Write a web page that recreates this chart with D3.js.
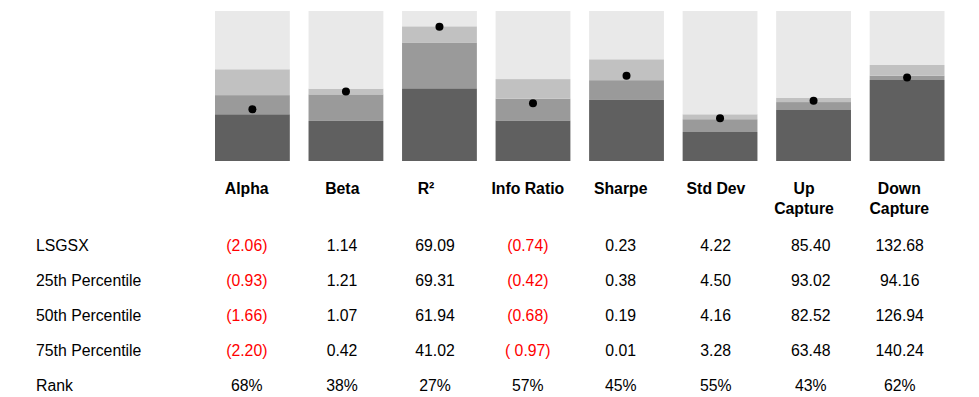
<!DOCTYPE html>
<html>
<head>
<meta charset="utf-8">
<script src="https://cdn.jsdelivr.net/npm/d3@7"></script>
<style>
  html, body { margin: 0; padding: 0; background: #fff; }
  svg { display: block; }
  text { font-family: "Liberation Sans", Arial, sans-serif; }
</style>
</head>
<body>
<svg id="chart" width="979" height="397"></svg>
<script>
// ---------- data ----------
const metrics = ["Alpha", "Beta", "R²", "Info Ratio", "Sharpe", "Std Dev", "Up Capture", "Down Capture"];
const headerLines = [["Alpha"], ["Beta"], ["R²"], ["Info Ratio"], ["Sharpe"], ["Std Dev"], ["Up", "Capture"], ["Down", "Capture"]];
const fund = [-2.06, 1.14, 69.09, -0.74, 0.23, 4.22, 85.40, 132.68];
const p25  = [-0.93, 1.21, 69.31, -0.42, 0.38, 4.50, 93.02, 94.16];
const p50  = [-1.66, 1.07, 61.94, -0.68, 0.19, 4.16, 82.52, 126.94];
const p75  = [-2.20, 0.42, 41.02, -0.97, 0.01, 3.28, 63.48, 140.24];
// value shown at bottom and top of each bar's scale (Down Capture is inverted)
const scaleBottom = [-3.52, -0.56, 7.85, -1.51, -0.545, 1.28, -59.0, 389.1];
const scaleTop    = [0.715, 3.11, 76.29, 0.486, 0.819, 11.62, 301.2, -71.7];

const rowLabels = ["LSGSX", "25th Percentile", "50th Percentile", "75th Percentile", "Rank"];
const fundText = ["(2.06)", "1.14", "69.09", "(0.74)", "0.23", "4.22", "85.40", "132.68"];
const p25Text  = ["(0.93)", "1.21", "69.31", "(0.42)", "0.38", "4.50", "93.02", "94.16"];
const p50Text  = ["(1.66)", "1.07", "61.94", "(0.68)", "0.19", "4.16", "82.52", "126.94"];
const p75Text  = ["(2.20)", "0.42", "41.02", "( 0.97)", "0.01", "3.28", "63.48", "140.24"];
const rankText = ["68%", "38%", "27%", "57%", "45%", "55%", "43%", "62%"];

// ---------- layout ----------
const svg = d3.select("#chart");
const barTop = 11, barBottom = 161;
const x = d3.scaleBand().domain(metrics).range([215, 944.5]).paddingInner(0.2).paddingOuter(0);
const colors = ["#606060", "#9a9a9a", "#c1c1c1", "#e9e9e9"];
const headerX = [246.7, 342.3, 426, 527.8, 620.7, 716, 804, 899.3];
const valueX  = [246.8, 342, 435, 527.8, 620.7, 715.7, 810.8, 899.7];
const fontSize = 15.8;

metrics.forEach((m, i) => {
  const y = d3.scaleLinear().domain([scaleBottom[i], scaleTop[i]]).range([barBottom, barTop]);
  const stops = [scaleBottom[i], p75[i], p50[i], p25[i], scaleTop[i]];
  const segs = d3.range(4).map(k => ({ a: stops[k], b: stops[k + 1], c: colors[k] }));
  const g = svg.append("g");
  g.selectAll("rect").data(segs).join("rect")
    .attr("x", x(m))
    .attr("width", x.bandwidth())
    .attr("y", d => Math.min(y(d.a), y(d.b)))
    .attr("height", d => Math.abs(y(d.a) - y(d.b)))
    .attr("fill", d => d.c);
  g.append("circle")
    .attr("cx", x(m) + x.bandwidth() / 2)
    .attr("cy", y(fund[i]))
    .attr("r", 4)
    .attr("fill", "#000");
});

// headers
const hdr = svg.append("g");
headerLines.forEach((lines, i) => {
  const t = hdr.append("text")
    .attr("x", headerX[i]).attr("y", 194.3)
    .attr("text-anchor", "middle")
    .attr("font-size", fontSize).attr("font-weight", "bold").attr("fill", "#000");
  lines.forEach((ln, j) => {
    t.append("tspan").attr("x", headerX[i]).attr("dy", j === 0 ? 0 : 19.7).text(ln);
  });
});

// table rows
const rows = [fundText, p25Text, p50Text, p75Text, rankText];
const rowY = d3.scalePoint().domain(rowLabels).range([250.5, 390.7]);
rowLabels.forEach((lab, r) => {
  svg.append("text")
    .attr("x", 36).attr("y", rowY(lab))
    .attr("font-size", fontSize).attr("fill", "#000")
    .text(lab);
  svg.append("g").selectAll("text").data(rows[r]).join("text")
    .attr("x", (d, i) => valueX[i]).attr("y", rowY(lab))
    .attr("text-anchor", "middle")
    .attr("font-size", fontSize)
    .attr("fill", d => d.trim().startsWith("(") ? "#ff0000" : "#000")
    .text(d => d);
});
</script>
</body>
</html>
